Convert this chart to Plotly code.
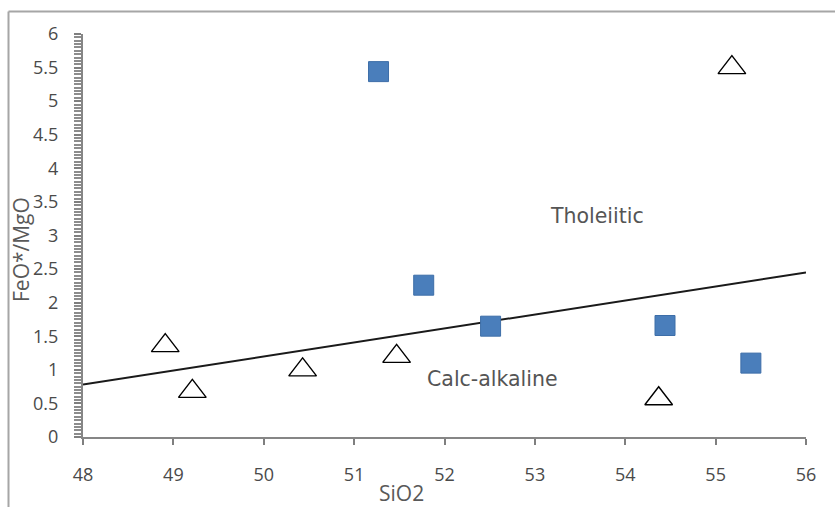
import plotly.graph_objects as go

# Data
sq_x = [51.27, 51.77, 52.51, 54.44, 55.39]
sq_y = [5.44, 2.26, 1.65, 1.66, 1.10]
tri_x = [48.91, 49.21, 50.43, 51.47, 54.37, 55.18]
tri_y = [1.36, 0.68, 1.00, 1.20, 0.57, 5.50]
line_x = [48, 56]
line_y = [0.78, 2.45]
x_ticks = [48, 49, 50, 51, 52, 53, 54, 55, 56]
y_major = [0, 0.5, 1, 1.5, 2, 2.5, 3, 3.5, 4, 4.5, 5, 5.5, 6]
y_major_text = ["0", "0.5", "1", "1.5", "2", "2.5", "3", "3.5", "4", "4.5", "5", "5.5", "6"]
y_minor_step = 0.05
region_labels = ["Tholeiitic", "Calc-alkaline"]
region_x = [53.69, 52.53]
region_y = [3.29, 0.86]

n_steps = int(round((y_major[-1] - y_major[0]) / y_minor_step))
y_minor_vals = [round(y_major[0] + i * y_minor_step, 4) for i in range(n_steps + 1)]

W, H = 835, 507
L, R, T, B = 83, 29, 34, 70
pw, ph = W - L - R, H - T - B

def px(x):
    return (x - L) / pw

def py(y):
    return (H - B - y) / ph

fig = go.Figure()
fig.add_trace(go.Scatter(x=line_x, y=line_y, mode="lines",
                         line=dict(color="#1a1a1a", width=2), hoverinfo="skip"))
fig.add_trace(go.Scatter(x=sq_x, y=sq_y, mode="markers",
                         marker=dict(symbol="square", size=20, color="#4A7EBB",
                                     line=dict(color="#3d6ea8", width=1))))
fig.add_trace(go.Scatter(x=tri_x, y=tri_y, mode="markers",
                         marker=dict(symbol="triangle-up-open", size=24, color="#000000",
                                     line=dict(color="#000000", width=1.4))))

for t, x, y in zip(region_labels, region_x, region_y):
    fig.add_annotation(x=x, y=y, text=t, showarrow=False,
                       font=dict(family="DejaVu Sans", size=20.5, color="#555555"))

fig.add_annotation(xref="paper", yref="paper", x=px(401), y=py(493), text="SiO2",
                   xanchor="center", yanchor="middle",
                   showarrow=False, font=dict(family="Open Sans", size=21, color="#595959"))
fig.add_annotation(xref="paper", yref="paper", x=px(21), y=py(250), text="FeO*/MgO",
                   xanchor="center", yanchor="middle",
                   textangle=-90, showarrow=False,
                   font=dict(family="Open Sans", size=21, color="#595959"))

fig.add_shape(type="line", xref="paper", yref="paper", x0=px(8.5), x1=px(835), y0=py(11.5), y1=py(11.5),
              line=dict(color="#a6a6a6", width=2))
fig.add_shape(type="line", xref="paper", yref="paper", x0=px(8.5), x1=px(8.5), y0=py(11.5), y1=py(507),
              line=dict(color="#a6a6a6", width=2))

fig.update_layout(
    xaxis=dict(range=[48, 56], tickvals=x_ticks, ticks="outside", ticklen=6, tickwidth=1.5,
               tickcolor="#7f7f7f", showline=True, linecolor="#868686", linewidth=2,
               showgrid=False, zeroline=False, ticklabelstandoff=14,
               tickfont=dict(family="Open Sans", size=18, color="#4a4a4a")),
    yaxis=dict(range=[0, 6], tickmode="array", tickvals=y_major, ticktext=y_major_text,
               ticks="outside", ticklen=7, tickwidth=1.5,
               tickcolor="#7f7f7f", showline=True, linecolor="#868686", linewidth=2,
               showgrid=False, zeroline=False, ticklabelstandoff=12,
               minor=dict(tickmode="array", tickvals=y_minor_vals, ticks="outside",
                          ticklen=7, tickwidth=1.5, tickcolor="#8c8c8c", showgrid=False),
               tickfont=dict(family="Open Sans", size=18, color="#4a4a4a")),
    width=W, height=H, margin=dict(l=L, r=R, t=T, b=B, autoexpand=False),
    plot_bgcolor="white", paper_bgcolor="white", showlegend=False)
fig.write_html("out.html")
